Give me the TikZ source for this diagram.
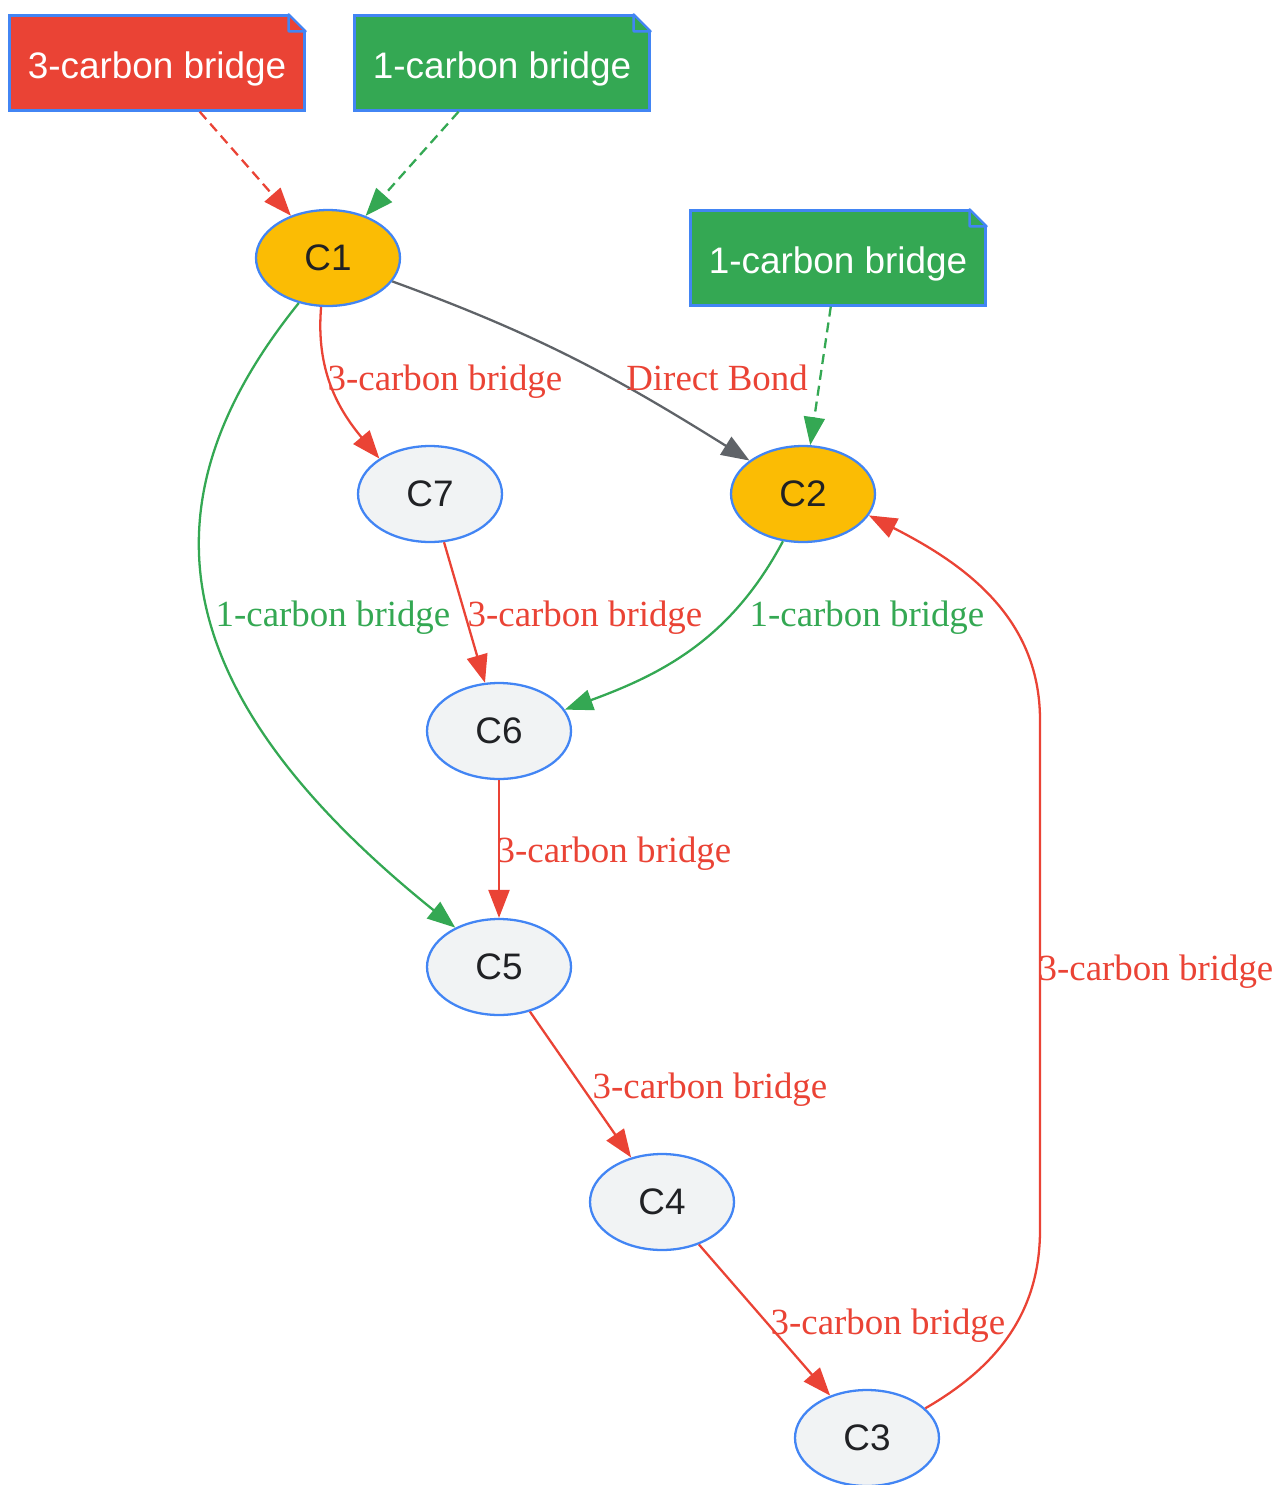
\documentclass[tikz,border=0pt]{standalone}
\usepackage{fontspec}
\setmainfont{Liberation Serif}
\setsansfont{Liberation Sans}
\usepackage{tikz}
\usetikzlibrary{shapes.geometric}
\usetikzlibrary{arrows.meta}

\definecolor{gred}{HTML}{EA4335}
\definecolor{ggreen}{HTML}{34A853}
\definecolor{gyellow}{HTML}{FBBC04}
\definecolor{gblue}{HTML}{4285F4}
\definecolor{glight}{HTML}{F1F3F4}
\definecolor{ggray}{HTML}{5F6368}
\definecolor{gtext}{HTML}{202124}

\begin{document}
\begin{tikzpicture}[
	x=0.02cm, y=-0.02cm,
	atom/.style={
		ellipse, draw=gblue, line width=1.3pt, fill=glight,
		minimum width=2.88cm, minimum height=1.92cm, inner sep=0pt,
		text=gtext, font=\sffamily\fontsize{21}{25}\selectfont
	},
	bridgehead/.style={atom, fill=gyellow},
	notebox/.style={
		rectangle, draw=gblue, line width=1.3pt, fill=#1,
		minimum width=5.9cm, minimum height=1.9cm, inner sep=0pt,
		text height=0.6cm, text depth=0pt,
		text=white, font=\sffamily\fontsize{21}{25}\selectfont
	},
	bond/.style={-{Triangle[length=0.56cm,width=0.42cm]}, line width=1.3pt, draw=#1},
	dashbond/.style={bond=#1, dash pattern=on 0.2cm off 0.12cm},
	bondtxt/.style={text=#1, anchor=base, inner sep=0pt, font=\fontsize{21}{25}\selectfont}
]
\useasboundingbox (0,0) rectangle (1277,1485);

% bridge notes
\node[notebox=gred] (B3) at (157,63) {3-carbon bridge};
\node[notebox=ggreen] (B1a) at (502,63) {1-carbon bridge};
\node[notebox=ggreen] (B1b) at (838,258) {1-carbon bridge};
\foreach \n in {B3, B1a, B1b} {
	\fill[white] ([xshift=-0.34cm,yshift=0.05cm]\n.north east) -- ([xshift=0.05cm,yshift=0.05cm]\n.north east)
		-- ([xshift=0.05cm,yshift=-0.34cm]\n.north east) -- ([yshift=-0.34cm]\n.north east)
		-- ([xshift=-0.34cm]\n.north east) -- cycle;
	\draw[gblue, line width=1.3pt, line join=round] ([xshift=-0.34cm]\n.north east) -- ([yshift=-0.34cm]\n.north east)
		-- ([xshift=-0.34cm,yshift=-0.34cm]\n.north east) -- cycle;
}

% atoms
\node[bridgehead] (C1) at (328,258) {C1};
\node[bridgehead] (C2) at (803,494) {C2};
\node[atom] (C7) at (430,494) {C7};
\node[atom] (C6) at (499,731) {C6};
\node[atom] (C5) at (499,967) {C5};
\node[atom] (C4) at (662,1202) {C4};
\node[atom] (C3) at (867,1438) {C3};

\coordinate (bendlow) at (1040,1230);
\coordinate (bendhigh) at (1040,720);

% bonds
\draw[dashbond=gred] (B3) -- (C1);
\draw[dashbond=ggreen] (B1a) -- (C1);
\draw[dashbond=ggreen] (B1b) -- (C2);
\draw[bond=ggray] (C1) to[out=-20,in=148] (C2);
\draw[bond=gred] (C1.-98) to[out=-95,in=130] (C7.145);
\draw[bond=ggreen] (C1.-123) .. controls (140,500) and (160,690) .. (C5.138);
\draw[bond=gred] (C7) -- (C6);
\draw[bond=ggreen] (C2.-113) to[out=-118,in=20] (C6.18);
\draw[bond=gred] (C6) -- (C5);
\draw[bond=gred] (C5) -- (C4);
\draw[bond=gred] (C4) -- (C3);
\draw[bond=gred] (C3.27) to[out=30,in=-90] (bendlow) -- (bendhigh) to[out=90,in=-27] (C2.-18);

% bond labels
\node[bondtxt=gred] (L17) at (445,390) {3-carbon bridge};
\node[bondtxt=gred] (L12) at (717,390) {Direct Bond};
\node[bondtxt=ggreen] (L15) at (333,626) {1-carbon bridge};
\node[bondtxt=gred] (L76) at (585,626) {3-carbon bridge};
\node[bondtxt=ggreen] (L26) at (867,626) {1-carbon bridge};
\node[bondtxt=gred] (L65) at (614,862) {3-carbon bridge};
\node[bondtxt=gred] (L32) at (1156,980) {3-carbon bridge};
\node[bondtxt=gred] (L54) at (710,1098) {3-carbon bridge};
\node[bondtxt=gred] (L43) at (888,1334) {3-carbon bridge};
\end{tikzpicture}
\end{document}
